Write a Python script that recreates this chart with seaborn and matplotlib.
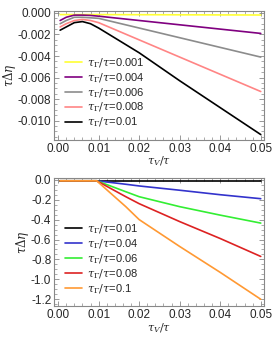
import numpy as np
import pandas as pd
import seaborn as sns
import matplotlib.pyplot as plt
from matplotlib.ticker import MultipleLocator, FormatStrFormatter

# top panel data
x_top = [0.0005, 0.002, 0.004, 0.006, 0.008, 0.01, 0.02, 0.03, 0.04, 0.05]
top_labels = ['0.001', '0.004', '0.006', '0.008', '0.01']
top_vals = {
    '0.001': [-0.00015, -0.00015, -0.00015, -0.00015, -0.00015, -0.00015, -0.00016, -0.00017, -0.00018, -0.00019],
    '0.004': [-0.0007, -0.0004, -0.0002, -0.0002, -0.00023, -0.0003, -0.0007, -0.0011, -0.0015, -0.0019],
    '0.006': [-0.0010, -0.0007, -0.0004, -0.0004, -0.00045, -0.0005, -0.0014, -0.0023, -0.0032, -0.0041],
    '0.008': [-0.0013, -0.0010, -0.0007, -0.0006, -0.0007, -0.0009, -0.0025, -0.0041, -0.0057, -0.0073],
    '0.01': [-0.0016, -0.0013, -0.0009, -0.0008, -0.0010, -0.0014, -0.0037, -0.0063, -0.0088, -0.0113],
}
top_colors = ['#ffff33', '#800080', '#8c8c8c', '#ff8585', '#000000']

# bottom panel data
x_bot = [0.0005, 0.005, 0.0095, 0.0167, 0.02, 0.03, 0.04, 0.05]
bot_labels = ['0.01', '0.04', '0.06', '0.08', '0.1']
bot_vals = {
    '0.01': [-0.01, -0.01, -0.01, -0.01, -0.01, -0.01, -0.01, -0.01],
    '0.04': [-0.01, -0.01, -0.01, -0.045, -0.062, -0.105, -0.15, -0.19],
    '0.06': [-0.01, -0.01, -0.01, -0.12, -0.17, -0.27, -0.355, -0.435],
    '0.08': [-0.01, -0.01, -0.01, -0.17, -0.24, -0.42, -0.59, -0.77],
    '0.1': [-0.01, -0.01, -0.01, -0.27, -0.40, -0.67, -0.93, -1.20],
}
bot_colors = ['#000000', '#3333cc', '#33ee33', '#dd2222', '#ff9933']


def long_df(xs, vals):
    rows = []
    for k, ys in vals.items():
        for xv, yv in zip(xs, ys):
            rows.append({'x': xv, 'y': yv, 'lab': r'$\tau_\Gamma/\tau$=' + k})
    return pd.DataFrame(rows)


sns.set_style('ticks')
plt.rcParams['font.family'] = ['Liberation Sans', 'DejaVu Sans']
plt.rcParams['mathtext.fontset'] = 'dejavuserif'

fig = plt.figure(figsize=(2.73, 3.38), dpi=100)
ax1 = fig.add_axes([0.198, 0.586, 0.769, 0.382])
ax2 = fig.add_axes([0.198, 0.094, 0.769, 0.38])

df1 = long_df(x_top, top_vals)
sns.lineplot(data=df1, x='x', y='y', hue='lab', palette=top_colors, ax=ax1, linewidth=1.2)
df2 = long_df(x_bot, bot_vals)
sns.lineplot(data=df2, x='x', y='y', hue='lab', palette=bot_colors, ax=ax2, linewidth=1.2)

ax1.set_ylim(-0.0118, 0.0002)
ax1.yaxis.set_major_locator(MultipleLocator(0.002))
ax1.yaxis.set_minor_locator(MultipleLocator(0.0005))
ax1.yaxis.set_major_formatter(FormatStrFormatter('%.3f'))
ax2.set_ylim(-1.27, 0.02)
ax2.yaxis.set_major_locator(MultipleLocator(0.2))
ax2.yaxis.set_minor_locator(MultipleLocator(0.05))
ax2.yaxis.set_major_formatter(FormatStrFormatter('%.1f'))

for ax in (ax1, ax2):
    ax.set_xlim(-0.001, 0.0508)
    ax.xaxis.set_major_locator(MultipleLocator(0.01))
    ax.xaxis.set_minor_locator(MultipleLocator(0.002))
    ax.xaxis.set_major_formatter(FormatStrFormatter('%.2f'))
    ax.tick_params(which='both', direction='in', top=True, right=True,
                   labelsize=8.5, pad=2, color='#888888')
    ax.tick_params(which='major', length=3.5, width=0.6)
    ax.tick_params(which='minor', length=2, width=0.5)
    for s in ax.spines.values():
        s.set_color('#888888')
        s.set_linewidth(0.8)
    ax.set_xlabel(r'$\tau_V/\tau$', fontsize=8, labelpad=0)
    ax.set_ylabel(r'$\tau\Delta\eta$', fontsize=8.5, labelpad=0)
    ax.legend(frameon=False, fontsize=8, loc='lower left',
              bbox_to_anchor=(0.02, 0.03), handlelength=1.5,
              handletextpad=0.5, labelspacing=0.12, borderaxespad=0.2)

fig.savefig('out.png', dpi=100)
